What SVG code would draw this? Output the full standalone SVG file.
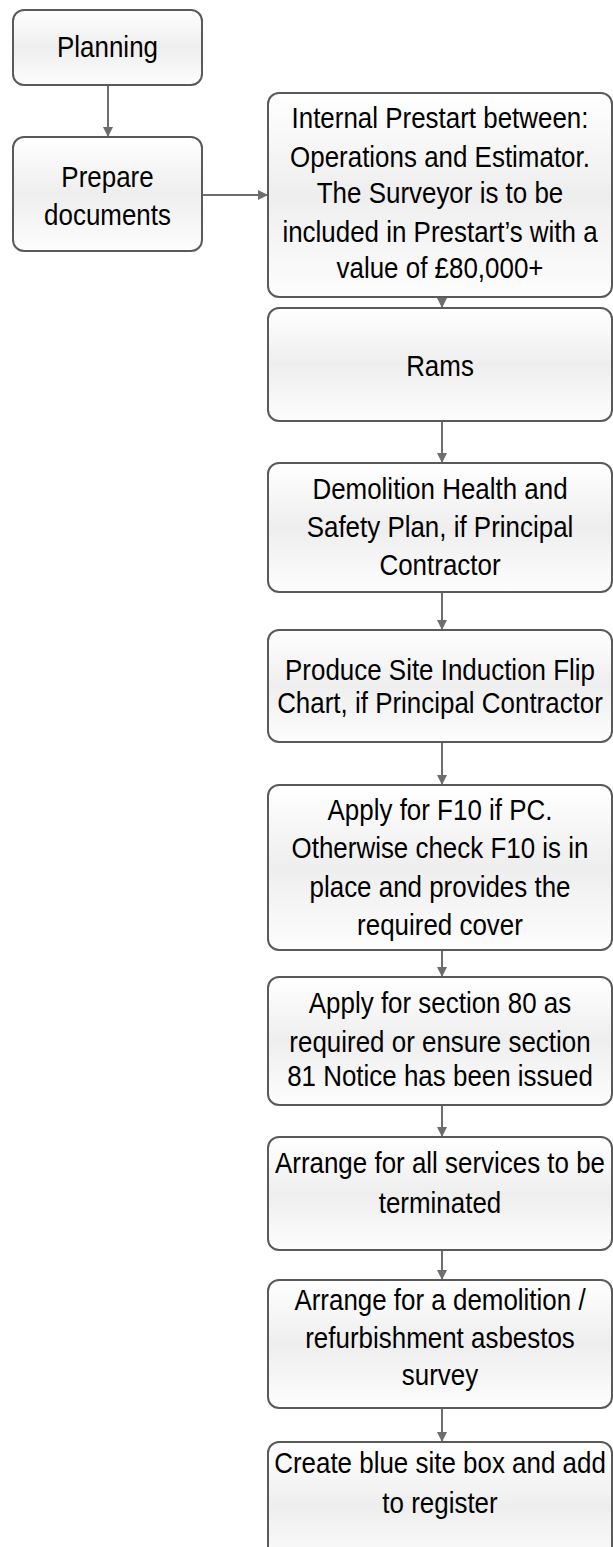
<svg xmlns="http://www.w3.org/2000/svg" width="613" height="1547" viewBox="0 0 613 1547">
<style>
.box{stroke:#5a5a5a;stroke-width:2;fill:url(#g)}
.t{font-family:"Liberation Sans",Arial,sans-serif;font-size:30px;fill:#000;text-anchor:middle}
.c{stroke:#6e6e6e;stroke-width:2;fill:none;marker-end:url(#ah)}
</style>
<defs>
<linearGradient id="g" x1="0" y1="0" x2="0" y2="1">
<stop offset="0" stop-color="#ffffff"/>
<stop offset="0.5" stop-color="#eeeeee"/>
<stop offset="1" stop-color="#fdfdfd"/>
</linearGradient>
<marker id="ah" viewBox="0 0 10 10" refX="10" refY="5" markerWidth="5" markerHeight="5" orient="auto" markerUnits="strokeWidth">
<path d="M0,0 L10,5 L0,10 Z" fill="#6e6e6e"/>
</marker>
</defs>
<rect width="613" height="1547" fill="#ffffff"/>
<g id="connectors">
<line class="c" x1="108" y1="86" x2="108" y2="137"/>
<line class="c" x1="203" y1="195" x2="268" y2="195"/>
<line class="c" x1="442" y1="297" x2="442" y2="308"/>
<line class="c" x1="442" y1="422" x2="442" y2="463"/>
<line class="c" x1="442" y1="593" x2="442" y2="630"/>
<line class="c" x1="442" y1="743" x2="442" y2="785"/>
<line class="c" x1="442" y1="951" x2="442" y2="977"/>
<line class="c" x1="442" y1="1106" x2="442" y2="1137"/>
<line class="c" x1="442" y1="1251" x2="442" y2="1280"/>
<line class="c" x1="442" y1="1409" x2="442" y2="1442"/>
</g>
<g id="planning">
<rect class="box" x="13" y="10" width="189" height="75" rx="11"/>
<g transform="translate(107.5,0) scale(0.865,1)"><text class="t" x="0" y="57">Planning</text></g>
</g>
<g id="prepare">
<rect class="box" x="13" y="137" width="189" height="114" rx="11"/>
<g transform="translate(107.5,0) scale(0.865,1)"><text class="t" x="0" y="187">Prepare</text><text class="t" x="0" y="225">documents</text></g>
</g>
<g id="prestart">
<rect class="box" x="268" y="93" width="344" height="204" rx="11"/>
<g transform="translate(440,0) scale(0.865,1)">
<text class="t" x="0" y="128">Internal Prestart between:</text>
<text class="t" x="0" y="167">Operations and Estimator.</text>
<text class="t" x="0" y="203">The Surveyor is to be</text>
<text class="t" x="0" y="242">included in Prestart’s with a</text>
<text class="t" x="0" y="278">value of £80,000+</text>
</g>
</g>
<g id="rams">
<rect class="box" x="268" y="308" width="344" height="113" rx="11"/>
<g transform="translate(440,0) scale(0.865,1)"><text class="t" x="0" y="376">Rams</text></g>
</g>
<g id="demolition">
<rect class="box" x="268" y="463" width="344" height="129" rx="11"/>
<g transform="translate(440,0) scale(0.865,1)">
<text class="t" x="0" y="499">Demolition Health and</text>
<text class="t" x="0" y="537">Safety Plan, if Principal</text>
<text class="t" x="0" y="575">Contractor</text>
</g>
</g>
<g id="induction">
<rect class="box" x="268" y="630" width="344" height="112" rx="11"/>
<g transform="translate(440,0) scale(0.865,1)">
<text class="t" x="0" y="680">Produce Site Induction Flip</text>
<text class="t" x="0" y="713">Chart, if Principal Contractor</text>
</g>
</g>
<g id="f10">
<rect class="box" x="268" y="785" width="344" height="165" rx="11"/>
<g transform="translate(440,0) scale(0.865,1)">
<text class="t" x="0" y="820">Apply for F10 if PC.</text>
<text class="t" x="0" y="858">Otherwise check F10 is in</text>
<text class="t" x="0" y="897">place and provides the</text>
<text class="t" x="0" y="935">required cover</text>
</g>
</g>
<g id="section80">
<rect class="box" x="268" y="977" width="344" height="128" rx="11"/>
<g transform="translate(440,0) scale(0.865,1)">
<text class="t" x="0" y="1013">Apply for section 80 as</text>
<text class="t" x="0" y="1052">required or ensure section</text>
<text class="t" x="0" y="1086">81 Notice has been issued</text>
</g>
</g>
<g id="services">
<rect class="box" x="268" y="1137" width="344" height="113" rx="11"/>
<g transform="translate(440,0) scale(0.865,1)">
<text class="t" x="0" y="1173">Arrange for all services to be</text>
<text class="t" x="0" y="1213">terminated</text>
</g>
</g>
<g id="asbestos">
<rect class="box" x="268" y="1280" width="344" height="128" rx="11"/>
<g transform="translate(440,0) scale(0.865,1)">
<text class="t" x="0" y="1310">Arrange for a demolition /</text>
<text class="t" x="0" y="1348">refurbishment asbestos</text>
<text class="t" x="0" y="1385">survey</text>
</g>
</g>
<g id="sitebox">
<rect class="box" x="268" y="1442" width="344" height="128" rx="11"/>
<g transform="translate(440,0) scale(0.865,1)">
<text class="t" x="0" y="1473">Create blue site box and add</text>
<text class="t" x="0" y="1513">to register</text>
</g>
</g>
</svg>
